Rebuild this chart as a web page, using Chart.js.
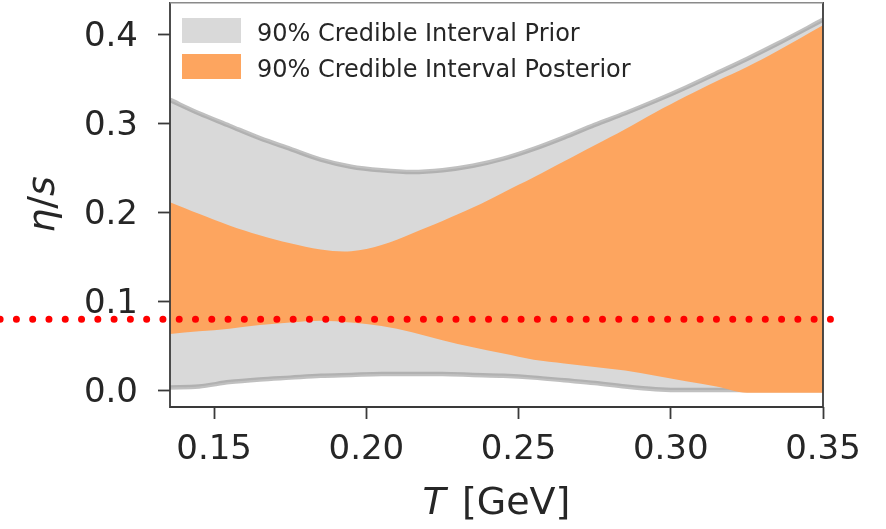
<!DOCTYPE html>
<html>
<head>
<meta charset="utf-8">
<script src="https://cdn.jsdelivr.net/npm/chart.js@4.4.1/dist/chart.umd.min.js"></script>
<style>
html,body{margin:0;padding:0;background:#ffffff;}
#wrap{width:886px;height:529px;}
</style>
</head>
<body>
<div id="wrap"><canvas id="c" width="886" height="529"></canvas></div>
<script>
// ---- data ----
const T_GRID      = [0.1355,0.145,0.155,0.165,0.175,0.185,0.195,0.205,0.215,0.225,0.235,0.245,0.255,0.265,0.275,0.285,0.295,0.305,0.315,0.325,0.335,0.350];
const PRIOR_LOWER = [0.003, 0.004,0.009,0.012,0.014,0.016,0.017,0.018,0.018,0.018,0.017,0.016,0.014,0.011,0.008,0.004,0.001,0.000,0.000,0.000,0.000,0.000];
const PRIOR_UPPER = [0.326, 0.311,0.297,0.283,0.271,0.259,0.251,0.247,0.245,0.247,0.252,0.260,0.271,0.284,0.298,0.311,0.325,0.340,0.356,0.372,0.389,0.416];
const POST_LOWER  = [0.063, 0.066,0.069,0.073,0.076,0.078,0.076,0.072,0.065,0.056,0.048,0.041,0.034,0.030,0.026,0.022,0.016,0.010,0.004,-0.003,-0.003,-0.003];
const POST_UPPER  = [0.211, 0.198,0.185,0.174,0.165,0.158,0.156,0.163,0.176,0.190,0.205,0.222,0.239,0.257,0.275,0.293,0.312,0.330,0.347,0.363,0.381,0.410];
const KSS_T       = [0.0797, 0.3527];
const KSS_VALUE   = 0.0796;
const X_TICKS       = [0.15, 0.20, 0.25, 0.30, 0.35];
const X_TICK_LABELS = ["0.15", "0.20", "0.25", "0.30", "0.35"];
const Y_TICKS       = [0.0, 0.1, 0.2, 0.3, 0.4];
const Y_TICK_LABELS = ["0.0", "0.1", "0.2", "0.3", "0.4"];
const LEGEND_LABELS = ["90% Credible Interval Prior", "90% Credible Interval Posterior"];
const X_TITLE_ITALIC = "T";
const X_TITLE_REST   = " [GeV]";
const Y_TITLE_ITALIC = "η";
const Y_TITLE_REST   = "/";
const Y_TITLE_ITALIC2 = "s";

// ---- styling ----
const FONT = "'DejaVu Sans', 'Liberation Sans', sans-serif";
const TEXT = "#262626";
const GRAY_FILL = "#d9d9d9";
const GRAY_EDGE = "rgba(150,150,150,0.6)";
const ORANGE = "rgb(253,165,95)";

const pts = (xs, ys) => xs.map((x, i) => ({x: x, y: ys[i]}));

const framePlugin = {
  id: 'frame',
  afterDraw(chart) {
    const {ctx, chartArea: a} = chart;
    ctx.save();
    // spines
    ctx.strokeStyle = "#3a3a3a";
    ctx.lineWidth = 1.8;
    ctx.beginPath();
    ctx.moveTo(a.left, a.top); ctx.lineTo(a.left, a.bottom); ctx.lineTo(a.right, a.bottom); ctx.lineTo(a.right, a.top);
    ctx.stroke();
    ctx.strokeStyle = "#8a8a8a";
    ctx.lineWidth = 1.4;
    ctx.beginPath(); ctx.moveTo(a.left, a.top + 0.7); ctx.lineTo(a.right, a.top + 0.7); ctx.stroke();

    // legend
    const ds = chart.data.datasets;
    const items = [{label: LEGEND_LABELS[0], color: ds[1].backgroundColor},
                   {label: LEGEND_LABELS[1], color: ds[3].backgroundColor}];
    ctx.font = "24px " + FONT;
    ctx.textBaseline = "alphabetic";
    ctx.textAlign = "left";
    items.forEach((it, i) => {
      const y = a.top + 16 + i * 36;
      ctx.fillStyle = it.color;
      ctx.fillRect(a.left + 12, y, 59, 25);
      ctx.fillStyle = TEXT;
      ctx.fillText(it.label, a.left + 87, y + 23);
    });

    // x title: italic T + [GeV]
    ctx.fillStyle = TEXT;
    ctx.font = "italic 38px " + FONT;
    const w1 = ctx.measureText(X_TITLE_ITALIC).width + 4;
    ctx.font = "38px " + FONT;
    const w2 = ctx.measureText(X_TITLE_REST).width;
    let xs = (a.left + a.right) / 2 - (w1 + w2) / 2;
    ctx.font = "italic 38px " + FONT;
    ctx.fillText(X_TITLE_ITALIC, xs, 514);
    ctx.font = "38px " + FONT;
    ctx.fillText(X_TITLE_REST, xs + w1, 514);

    // y title: eta/s rotated
    ctx.save();
    ctx.translate(54, (a.top + a.bottom) / 2);
    ctx.rotate(-Math.PI / 2);
    ctx.font = "italic 38px " + FONT;
    const e1 = ctx.measureText(Y_TITLE_ITALIC).width;
    const e3 = ctx.measureText(Y_TITLE_ITALIC2).width;
    ctx.font = "38px " + FONT;
    const e2 = ctx.measureText(Y_TITLE_REST).width;
    let ys = -(e1 + e2 + e3) / 2;
    ctx.font = "italic 38px " + FONT;
    ctx.fillText(Y_TITLE_ITALIC, ys, 0);
    ctx.font = "38px " + FONT;
    ctx.fillText(Y_TITLE_REST, ys + e1, 0);
    ctx.font = "italic 38px " + FONT;
    ctx.fillText(Y_TITLE_ITALIC2, ys + e1 + e2, 0);
    ctx.restore();
    ctx.restore();
  }
};

const lineBase = {pointRadius: 0, pointHoverRadius: 0, cubicInterpolationMode: 'monotone', tension: 0.4};
const smoothBase = {pointRadius: 0, pointHoverRadius: 0, cubicInterpolationMode: 'default', tension: 0.35};

new Chart(document.getElementById('c'), {
  type: 'line',
  data: {
    datasets: [
      Object.assign({label: 'prior lower', data: pts(T_GRID, PRIOR_LOWER), borderColor: GRAY_EDGE, borderWidth: 4.5, fill: false, order: 2, backgroundColor: GRAY_FILL}, lineBase),
      Object.assign({label: LEGEND_LABELS[0], data: pts(T_GRID, PRIOR_UPPER), borderColor: GRAY_EDGE, borderWidth: 4.5, fill: {target: 0}, order: 2, backgroundColor: GRAY_FILL}, lineBase),
      Object.assign({label: 'posterior lower', data: pts(T_GRID, POST_LOWER), borderColor: ORANGE, borderWidth: 0, fill: false, order: 1, backgroundColor: ORANGE}, lineBase),
      Object.assign({label: LEGEND_LABELS[1], data: pts(T_GRID, POST_UPPER), borderColor: ORANGE, borderWidth: 0, fill: {target: 2}, order: 1, backgroundColor: ORANGE}, smoothBase),
      {label: 'KSS bound', data: pts(KSS_T, [KSS_VALUE, KSS_VALUE]), borderColor: '#ff0000', borderWidth: 7,
       borderDash: [0, 16.28], borderCapStyle: 'round', pointRadius: 0, fill: false, clip: false, order: 0, tension: 0}
    ]
  },
  options: {
    responsive: false,
    devicePixelRatio: 1,
    animation: false,
    events: [],
    layout: {padding: {left: 0, top: 2, right: 63, bottom: 0}},
    plugins: {legend: {display: false}, tooltip: {enabled: false}, title: {display: false}},
    scales: {
      x: {
        type: 'linear', min: 0.1355, max: 0.35,
        afterBuildTicks: s => { s.ticks = X_TICKS.map(v => ({value: v})); },
        afterFit: s => { s.height = 122; s.paddingLeft = 0; s.paddingRight = 0; },
        ticks: {callback: v => X_TICK_LABELS[X_TICKS.indexOf(v)], font: {family: FONT, size: 34}, color: TEXT, padding: 11, maxRotation: 0, autoSkip: false},
        grid: {drawOnChartArea: false, drawTicks: true, tickLength: 12, tickColor: '#3a3a3a', tickWidth: 1.8},
        border: {display: false}
      },
      y: {
        type: 'linear', min: -0.019, max: 0.436,
        afterBuildTicks: s => { s.ticks = Y_TICKS.map(v => ({value: v})); },
        afterFit: s => { s.width = 170; s.paddingTop = 0; s.paddingBottom = 0; },
        ticks: {callback: v => Y_TICK_LABELS[Y_TICKS.indexOf(v)], font: {family: FONT, size: 34}, color: TEXT, padding: 20, labelOffset: 3, autoSkip: false},
        grid: {drawOnChartArea: false, drawTicks: true, tickLength: 12, tickColor: '#3a3a3a', tickWidth: 1.8},
        border: {display: false}
      }
    }
  },
  plugins: [framePlugin]
});
</script>
</body>
</html>
